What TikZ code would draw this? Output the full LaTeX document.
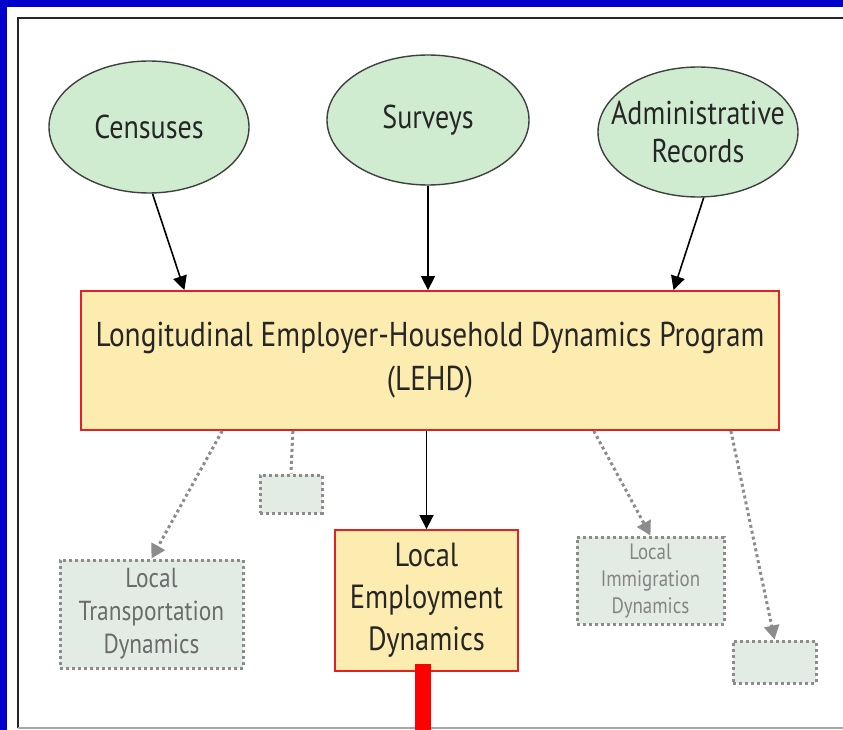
\documentclass[tikz,border=0pt]{standalone}
\usepackage{fontspec}
\setmainfont[FakeStretch=0.85]{PT Sans}
\usetikzlibrary{calc,positioning,arrows.meta,shapes.geometric}
\definecolor{slideblue}{RGB}{0,0,204}
\definecolor{srcgreen}{RGB}{208,236,208}
\definecolor{progyellow}{RGB}{253,236,176}
\definecolor{boxred}{RGB}{228,32,32}
\definecolor{ghostfill}{RGB}{226,236,229}
\definecolor{ghostgray}{RGB}{140,140,140}
\tikzset{
  >={Triangle[length=14pt,width=14pt]},
  source/.style={
    ellipse,
    draw=black!75, line width=1.4pt,
    fill=srcgreen,
    text=black!85,
    font=\fontsize{33}{38}\selectfont,
    align=center,
    inner sep=0pt},
  program/.style={
    rectangle,
    draw=boxred, line width=1.8pt,
    fill=progyellow,
    text=black!85,
    align=center,
    inner sep=0pt},
  ghost/.style={
    rectangle,
    draw=ghostgray, line width=3pt,
    dash pattern=on 3pt off 3pt,
    fill=ghostfill,
    text=black!55,
    align=center,
    inner sep=0pt},
  line/.style={draw, line width=1.6pt, ->},
  dotline/.style={draw=ghostgray, line width=3pt,
    dash pattern=on 3pt off 3pt,
    -{Triangle[length=14pt,width=15pt]}},
}

\begin{document}
\begin{tikzpicture}[x=1pt,y=-1pt]
  \useasboundingbox (0,0) rectangle (843,730);
  % slide frame
  \fill[slideblue] (0,0) rectangle (843,730);
  \fill[white] (7,7) rectangle (843,730);
  \draw[black!85, line width=2pt] (843,18) -- (18,18) -- (18,728);
  \draw[black!35, line width=1.5pt] (18,728) -- (843,728);

  \node[source, minimum width=200pt, minimum height=132pt] (cens) at (149,127) {Censuses};
  \node[source, minimum width=202pt, minimum height=130pt] (surv) at (428,120) {Surveys};
  \node[source, minimum width=200pt, minimum height=130pt,
    inner xsep=-20pt] (admin) at (698,132) {Administrative\\Records};

  \node[program, minimum width=698pt, minimum height=139pt,
    font=\fontsize{34.5}{44}\selectfont] (lehd) at (430,360.5)
    {Longitudinal Employer-Household Dynamics Program\\(LEHD)};
  \node[program, minimum width=183pt, minimum height=141pt,
    font=\fontsize{33.5}{42}\selectfont] (led) at (426.5,600.5)
    {Local\\Employment\\Dynamics};

  \node[ghost, minimum width=183pt, minimum height=108pt,
    font=\fontsize{27.5}{33}\selectfont, text=black!58] (ltd) at (151.5,614)
    {Local\\Transportation\\Dynamics};
  \node[ghost, minimum width=62pt, minimum height=38pt] (blank1) at (291,494) {};
  \node[ghost, minimum width=147pt, minimum height=87pt,
    font=\fontsize{22.3}{27}\selectfont, text=black!48] (lid) at (650.5,580.5)
    {Local\\Immigration\\Dynamics};
  \node[ghost, minimum width=83pt, minimum height=42pt] (blank2) at (774.5,662) {};

  \node[fill=red, inner sep=0pt, minimum width=16pt, minimum height=66pt] (bar) at (423,697) {};

  \path[line] (cens.-87) -- ($(lehd.north west)!0.149!(lehd.north east)$);
  \path[line] (surv.south) -- (surv.south |- lehd.north);
  \path[line] (admin.-85) -- ($(lehd.north west)!0.848!(lehd.north east)$);
  \path[line] (lehd.south -| led.north) -- (led.north);

  \path[dotline] ($(lehd.south west)!0.203!(lehd.south east)$) -- (ltd.north);
  \draw[ghostgray, line width=3pt, dash pattern=on 3pt off 3pt]
    ($(lehd.south west)!0.304!(lehd.south east)$) -- (blank1.north);
  \path[dotline] ($(lehd.south west)!0.734!(lehd.south east)$) -- (lid.north);
  \path[dotline] ($(lehd.south west)!0.930!(lehd.south east)$) -- (blank2.north);
\end{tikzpicture}
\end{document}
